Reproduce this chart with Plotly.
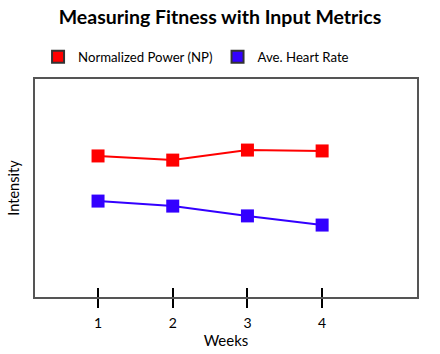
import plotly.graph_objects as go

weeks = [1, 2, 3, 4]
np_power = [6.47, 6.28, 6.74, 6.70]
heart_rate = [4.40, 4.17, 3.72, 3.30]
series_names = ["Normalized Power (NP)", "Ave. Heart Rate"]
colors = ["#ff0000", "#3300ff"]
tick_labels = ["1", "2", "3", "4"]

FONT = "Lato"
fig = go.Figure()
for vals, name, col in zip([np_power, heart_rate], series_names, colors):
    fig.add_trace(go.Scatter(x=weeks, y=vals, mode="lines+markers", showlegend=False,
                             line=dict(color=col, width=2),
                             marker=dict(symbol="square", size=13, color=col)))
for name, col in zip(series_names, colors):
    fig.add_trace(go.Scatter(x=[None], y=[None], mode="markers", name=name,
                             marker=dict(symbol="square", size=16, color=col,
                                         line=dict(color="#333", width=1))))
# invisible trace on overlay axis to draw inward ticks
fig.add_trace(go.Scatter(x=[None], y=[None], xaxis="x2", showlegend=False, hoverinfo="skip"))

fig.update_layout(
    width=440, height=354,
    margin=dict(l=35, r=23, t=79, b=57, autoexpand=False),
    paper_bgcolor="white", plot_bgcolor="white",
    font=dict(family=FONT, color="black", size=13),
    title=dict(text="<b>Measuring Fitness with Input Metrics</b>", x=0.5, xanchor="center",
               y=1 - 17/354, yanchor="middle", font=dict(size=19.5, family=FONT)),
    legend=dict(orientation="h", x=0.008, xanchor="left", y=1.10, yanchor="middle",
                font=dict(size=13.2), itemsizing="constant"),
    xaxis=dict(range=[0.156, 5.27], tickvals=weeks, ticktext=tick_labels, automargin=False,
               ticks="outside", ticklen=9, tickwidth=2, tickcolor="black",
               ticklabelstandoff=3, tickfont=dict(size=14),
               showgrid=False, zeroline=False, showline=True, linecolor="#555", linewidth=1.5,
               mirror=True,
               title=dict(text="Weeks", font=dict(size=15), standoff=5)),
    xaxis2=dict(overlaying="x", matches="x", tickvals=weeks, showticklabels=False,
                ticks="inside", ticklen=9, tickwidth=2, tickcolor="black", automargin=False,
                showgrid=False, zeroline=False, showline=False, side="bottom"),
    yaxis=dict(range=[0, 10], showticklabels=False, ticks="", showgrid=False, zeroline=False,
               automargin=False,
               showline=True, linecolor="#555", linewidth=1.5, mirror=True,
               title=dict(text="Intensity", font=dict(size=14.5), standoff=10)),
)
fig.write_html("out.html")
